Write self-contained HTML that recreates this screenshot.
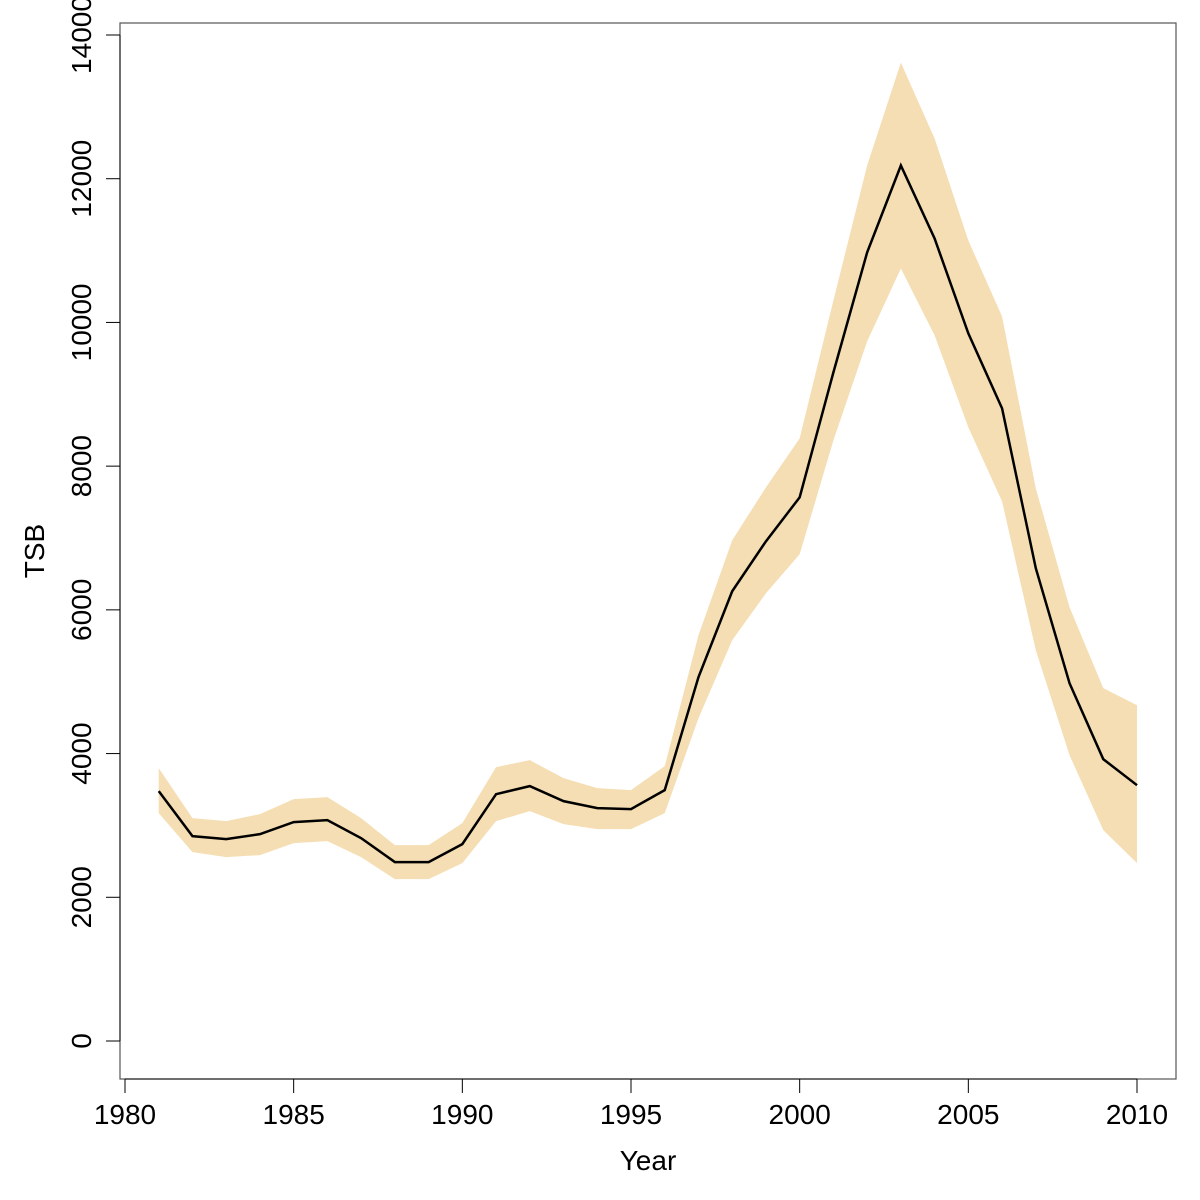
<!DOCTYPE html>
<html><head><meta charset="utf-8"><style>
html,body{margin:0;padding:0;background:#fff;}
svg{display:block;font-family:"Liberation Sans","DejaVu Sans",sans-serif;}
</style></head><body>
<svg id="chart" width="1200" height="1200" viewBox="0 0 1200 1200">
<rect x="120" y="23" width="1056" height="1056" fill="none" stroke="#555" stroke-width="1.2"/>
<g id="band"></g>
<g id="line"></g>
<g id="xaxis"></g>
<g id="yaxis"></g>
<text x="648" y="1170" font-size="28" text-anchor="middle">Year</text>
<text transform="translate(44,551) rotate(-90)" font-size="28" text-anchor="middle">TSB</text>
</svg>
<script>
const years = [1981,1982,1983,1984,1985,1986,1987,1988,1989,1990,1991,1992,1993,1994,1995,1996,1997,1998,1999,2000,2001,2002,2003,2004,2005,2006,2007,2008,2009,2010];
const tsb = [3477,2851,2810,2879,3046,3074,2823,2490,2490,2740,3435,3547,3338,3241,3227,3491,5063,6259,6954,7566,9305,10974,12184,11168,9847,8804,6579,4979,3922,3560];
const upper = [3797,3101,3060,3157,3366,3394,3101,2726,2726,3032,3811,3908,3658,3519,3491,3825,5647,6968,7705,8387,10306,12184,13616,12559,11140,10083,7691,6036,4910,4673];
const lower = [3171,2629,2559,2587,2754,2782,2559,2253,2253,2476,3060,3199,3018,2949,2949,3171,4492,5577,6231,6773,8359,9736,10751,9819,8540,7510,5438,3978,2935,2476];
const xTicks = [1980,1985,1990,1995,2000,2005,2010];
const yTicks = [0,2000,4000,6000,8000,10000,12000,14000];

const NS = "http://www.w3.org/2000/svg";
function xs(v){ return 125 + (v - 1980) * (1137 - 125) / 30; }
function ys(v){ return 1041 - v * (1041 - 35) / 14000; }

const band = document.getElementById('band');
let pts = years.map((y,i)=>xs(y)+','+ys(upper[i]));
for (let i = years.length-1; i >= 0; i--) pts.push(xs(years[i])+','+ys(lower[i]));
const poly = document.createElementNS(NS,'polygon');
poly.setAttribute('points', pts.join(' '));
poly.setAttribute('fill', '#F5DEB3');


band.appendChild(poly);

const line = document.createElementNS(NS,'polyline');
line.setAttribute('points', years.map((y,i)=>xs(y)+','+ys(tsb[i])).join(' '));
line.setAttribute('fill', 'none');
line.setAttribute('stroke', '#000');
line.setAttribute('stroke-width', '2.5');


document.getElementById('line').appendChild(line);

const xa = document.getElementById('xaxis');
const xl = document.createElementNS(NS,'line');
xl.setAttribute('x1', xs(xTicks[0])); xl.setAttribute('x2', xs(xTicks[xTicks.length-1]));
xl.setAttribute('y1', 1079); xl.setAttribute('y2', 1079);
xl.setAttribute('stroke', '#000');


xa.appendChild(xl);
xTicks.forEach(t=>{
  const tk = document.createElementNS(NS,'line');
  tk.setAttribute('x1', xs(t)); tk.setAttribute('x2', xs(t));
  tk.setAttribute('y1', 1079); tk.setAttribute('y2', 1093);
  tk.setAttribute('stroke', '#000');
  
  
  xa.appendChild(tk);
  const tx = document.createElementNS(NS,'text');
  tx.setAttribute('x', xs(t)); tx.setAttribute('y', 1124);
  tx.setAttribute('font-size', '28'); tx.setAttribute('text-anchor', 'middle');
  tx.textContent = t;
  
  
  xa.appendChild(tx);
});

const ya = document.getElementById('yaxis');
const yl = document.createElementNS(NS,'line');
yl.setAttribute('x1', 120); yl.setAttribute('x2', 120);
yl.setAttribute('y1', ys(yTicks[0])); yl.setAttribute('y2', ys(yTicks[yTicks.length-1]));
yl.setAttribute('stroke', '#000');


ya.appendChild(yl);
yTicks.forEach(t=>{
  const tk = document.createElementNS(NS,'line');
  tk.setAttribute('x1', 106); tk.setAttribute('x2', 120);
  tk.setAttribute('y1', ys(t)); tk.setAttribute('y2', ys(t));
  tk.setAttribute('stroke', '#000');
  
  
  ya.appendChild(tk);
  const tx = document.createElementNS(NS,'text');
  tx.setAttribute('transform', 'translate(91,' + ys(t) + ') rotate(-90)');
  tx.setAttribute('font-size', '28'); tx.setAttribute('text-anchor', 'middle');
  tx.textContent = t;
  
  
  ya.appendChild(tx);
});
</script>
</body></html>
